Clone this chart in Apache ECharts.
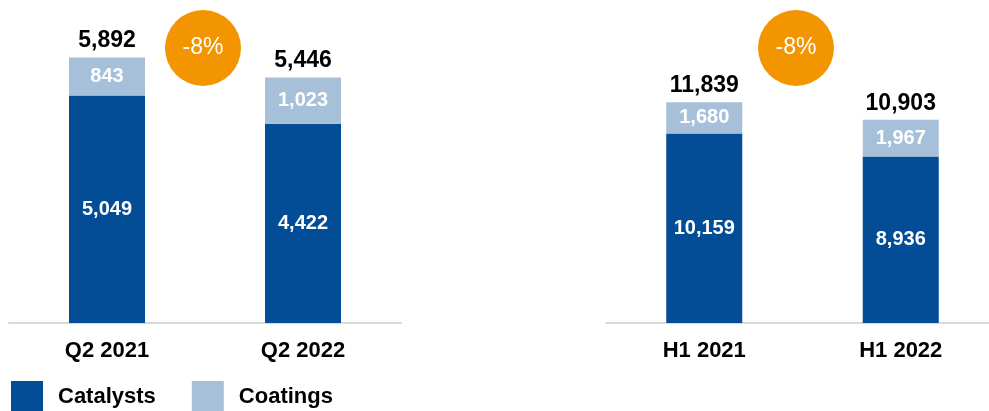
<!DOCTYPE html>
<html>
<head>
<meta charset="utf-8">
<script src="https://cdn.jsdelivr.net/npm/echarts@6/dist/echarts.min.js"></script>
<style>
  html, body { margin: 0; padding: 0; background: #fff; }
  #chart { width: 989px; height: 411px; }
</style>
</head>
<body>
<div id="chart"></div>
<script>
// Quarterly comparison (left panel)
const quarterCategories = ['Q2 2021', 'Q2 2022'];
const quarterCatalysts = [5049, 4422];
const quarterCoatings = [843, 1023];
const quarterTotals = [5892, 5446];

// Half-year comparison (right panel)
const halfCategories = ['H1 2021', 'H1 2022'];
const halfCatalysts = [10159, 8936];
const halfCoatings = [1680, 1967];
const halfTotals = [11839, 10903];

// Year-on-year change badges
const changeLabels = ['-8%', '-8%'];

const FONT = '"Liberation Sans", Arial, sans-serif';
const DARK = '#034C96';
const LIGHT = '#A6C0DA';
const ORANGE = '#F39500';

const fmt = v => Number(v).toLocaleString('en-US');

function panelSeries(axisIdx, catalysts, coatings, totals) {
  const stack = 'panel' + axisIdx;
  const inner = {
    show: true, position: 'inside', color: '#fff',
    fontFamily: FONT, fontWeight: 'bold', fontSize: 20,
    formatter: p => fmt(p.value)
  };
  return [
    {
      name: 'Catalysts', type: 'bar', stack, barWidth: 76,
      xAxisIndex: axisIdx, yAxisIndex: axisIdx,
      itemStyle: { color: DARK }, label: inner, data: catalysts
    },
    {
      name: 'Coatings', type: 'bar', stack, barWidth: 76,
      xAxisIndex: axisIdx, yAxisIndex: axisIdx,
      itemStyle: { color: LIGHT }, label: inner, data: coatings
    },
    {
      // invisible zero-height cap that carries the total above each stack
      name: 'Total', type: 'bar', stack, barWidth: 76,
      xAxisIndex: axisIdx, yAxisIndex: axisIdx,
      itemStyle: { color: 'transparent' },
      label: {
        show: true, position: 'top', distance: 5, color: '#000',
        fontFamily: FONT, fontWeight: 'bold', fontSize: 23,
        formatter: p => fmt(totals[p.dataIndex])
      },
      data: totals.map(() => 0)
    }
  ];
}

function xAxisFor(gridIndex, cats) {
  return {
    type: 'category', gridIndex, data: cats,
    axisTick: { show: false },
    axisLine: { lineStyle: { color: '#D9D9D9', width: 2 } },
    axisLabel: {
      color: '#000', fontFamily: FONT, fontWeight: 'bold', fontSize: 22, margin: 17
    }
  };
}

function badge(cx, cy, text) {
  return {
    type: 'group', x: cx, y: cy,
    children: [
      { type: 'circle', shape: { cx: 0, cy: 0, r: 38 }, style: { fill: ORANGE } },
      {
        type: 'text', x: 0, y: 0,
        style: {
          text, fill: '#fff', font: '23px ' + FONT,
          align: 'center', verticalAlign: 'middle'
        }
      }
    ]
  };
}

const chart = echarts.init(document.getElementById('chart'));
chart.setOption({
  animation: false,
  backgroundColor: '#fff',
  grid: [
    { left: 9, width: 392, top: 30, height: 293, outerBoundsMode: 'none', containLabel: false },
    { left: 606, width: 393, top: 62, height: 261, outerBoundsMode: 'none', containLabel: false }
  ],
  xAxis: [xAxisFor(0, quarterCategories), xAxisFor(1, halfCategories)],
  yAxis: [
    { type: 'value', gridIndex: 0, min: 0, max: 6500, show: false },
    { type: 'value', gridIndex: 1, min: 0, max: 14000, show: false }
  ],
  legend: {
    data: ['Catalysts', 'Coatings'],
    left: 11, top: 381, padding: 0,
    icon: 'rect', itemWidth: 32, itemHeight: 32, itemGap: 36,
    selectedMode: false,
    textStyle: {
      color: '#000', fontFamily: FONT, fontWeight: 'bold', fontSize: 22,
      padding: [0, 0, 0, 10]
    }
  },
  graphic: [badge(203, 48, changeLabels[0]), badge(796, 48, changeLabels[1])],
  series: [
    ...panelSeries(0, quarterCatalysts, quarterCoatings, quarterTotals),
    ...panelSeries(1, halfCatalysts, halfCoatings, halfTotals)
  ]
});
</script>
</body>
</html>
